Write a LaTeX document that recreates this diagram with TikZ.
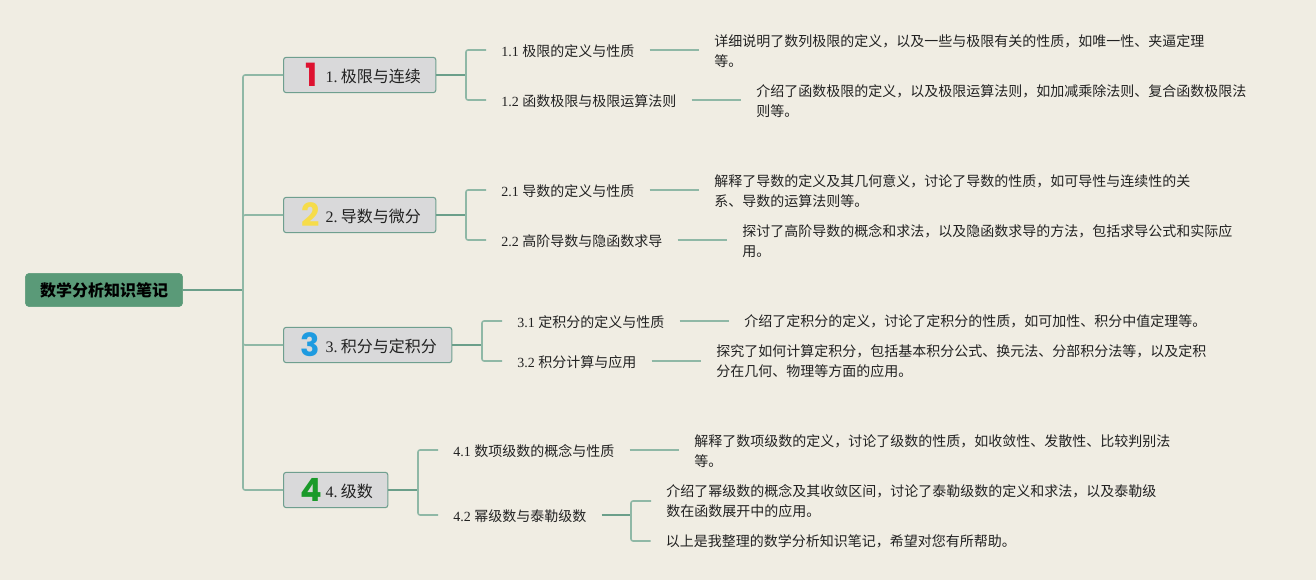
\documentclass[tikz,border=0pt]{standalone}
\usepackage{fontspec}
\setmainfont{Liberation Serif}
\newfontfamily\cjk{Noto Sans CJK SC}
\newfontfamily\iconfont{Poppins}[BoldFont={Poppins Bold}]
\newcommand{\lowtext}[1]{\raisebox{-0.9pt}[\height][\depth]{#1}}
\definecolor{bgc}{HTML}{F0EDE3}
\definecolor{boxfill}{HTML}{D9D9DA}
\definecolor{boxline}{HTML}{6F9F8F}
\definecolor{rootfill}{HTML}{5A9A78}
\definecolor{linedark}{HTML}{6B9F8A}
\definecolor{linelight}{HTML}{8FB8A6}
\definecolor{ink}{HTML}{222222}
\definecolor{iconred}{HTML}{DE1230}
\definecolor{iconyellow}{HTML}{F6DC4A}
\definecolor{iconblue}{HTML}{1E9BE0}
\definecolor{icongreen}{HTML}{1A9A2A}
\tikzset{
  rootbox/.style={draw=rootfill,fill=rootfill,rounded corners=3pt,minimum width=118pt,minimum height=25pt,inner sep=0pt,
    font=\fontsize{12}{15}\selectfont\cjk\bfseries,text=black},
  secbox/.style={draw=boxline,fill=boxfill,line width=0.8pt,rounded corners=2pt,minimum height=26.5pt,inner xsep=11.25pt,inner ysep=0pt,anchor=west,
    font=\fontsize{12}{15}\selectfont,text=ink},
  subtext/.style={anchor=west,inner xsep=11.25pt,inner ysep=0pt,font=\fontsize{10.5}{15}\selectfont,text=ink},
  detail/.style={anchor=west,inner xsep=11.25pt,inner ysep=0pt,align=left,font=\fontsize{10.5}{15}\selectfont\cjk,text=ink},
  icontext/.style={inner sep=0pt,font=\fontsize{24}{24}\selectfont\iconfont\bfseries},
  darkline/.style={draw=linedark,line width=1.2pt},
  lightline/.style={draw=linelight,line width=1.15pt,rounded corners=1.5pt},
}
\begin{document}
\begin{tikzpicture}[x=0.75pt,y=-0.75pt]
\fill[bgc] (0,0) rectangle (1316,580);
\useasboundingbox (0,0) rectangle (1316,580);

\node[rootbox] (root) at (104,290) {数学分析知识笔记};

\node[secbox] (b1) at (283,75) {\hspace{20.25pt}\lowtext{1.\hspace{-1.5pt} {\cjk 极限与连续}}};
\node[secbox] (b2) at (283,215) {\hspace{20.25pt}\lowtext{2.\hspace{-1.5pt} {\cjk 导数与微分}}};
\node[secbox] (b3) at (283,345) {\hspace{20.25pt}\lowtext{3.\hspace{-1.5pt} {\cjk 积分与定积分}}};
\node[secbox] (b4) at (283,490) {\hspace{20.25pt}\lowtext{4.\hspace{-1.5pt} {\cjk 级数}}};

\node[icontext,text=iconred] (i1) at (311.5,75) {1};
\node[icontext,text=iconyellow] (i2) at (311,215) {2};
\node[icontext,text=iconblue] (i3) at (310.5,345) {3};
\node[icontext,text=icongreen] (i4) at (311,490) {4};

\node[subtext] (s11) at (486,50) {\lowtext{1.1 {\cjk 极限的定义与性质}}};
\node[subtext] (s12) at (486,100) {\lowtext{1.2 {\cjk 函数极限与极限运算法则}}};
\node[subtext] (s21) at (486,190) {\lowtext{2.1 {\cjk 导数的定义与性质}}};
\node[subtext] (s22) at (486,240) {\lowtext{2.2 {\cjk 高阶导数与隐函数求导}}};
\node[subtext] (s31) at (502,321) {\lowtext{3.1 {\cjk 定积分的定义与性质}}};
\node[subtext] (s32) at (502,361) {\lowtext{3.2 {\cjk 积分计算与应用}}};
\node[subtext] (s41) at (438,450) {\lowtext{4.1 {\cjk 数项级数的概念与性质}}};
\node[subtext] (s42) at (438,515) {\lowtext{4.2 {\cjk 幂级数与泰勒级数}}};

\node[detail] (d11) at (699,51) {详细说明了数列极限的定义，以及一些与极限有关的性质，如唯一性、夹逼定理\\等。};
\node[detail] (d12) at (741,101) {介绍了函数极限的定义，以及极限运算法则，如加减乘除法则、复合函数极限法\\则等。};
\node[detail] (d21) at (699,191) {解释了导数的定义及其几何意义，讨论了导数的性质，如可导性与连续性的关\\系、导数的运算法则等。};
\node[detail] (d22) at (727,241) {探讨了高阶导数的概念和求法，以及隐函数求导的方法，包括求导公式和实际应\\用。};
\node[detail] (d31) at (729,321) {介绍了定积分的定义，讨论了定积分的性质，如可加性、积分中值定理等。};
\node[detail] (d32) at (701,361) {探究了如何计算定积分，包括基本积分公式、换元法、分部积分法等，以及定积\\分在几何、物理等方面的应用。};
\node[detail] (d41) at (679,451) {解释了数项级数的定义，讨论了级数的性质，如收敛性、发散性、比较判别法\\等。};
\node[detail] (d421) at (651,501) {介绍了幂级数的概念及其收敛区间，讨论了泰勒级数的定义和求法，以及泰勒级\\数在函数展开中的应用。};
\node[detail] (d422) at (650.5,541) {以上是我整理的数学分析知识笔记，希望对您有所帮助。};

\coordinate (j0) at (243,290);
\coordinate (j1) at (466,75);
\coordinate (j2) at (466,215);
\coordinate (j3) at (482,345);
\coordinate (j4) at (418,490);
\coordinate (j5) at (631,515);

\draw[darkline] (root.east) -- (j0);
\draw[lightline] (j0) |- (b1.west);
\draw[lightline] (j0) |- (b2.west);
\draw[lightline] (j0) |- (b3.west);
\draw[lightline] (j0) |- (b4.west);

\draw[darkline] (b1.east) -- (j1);
\draw[darkline] (b2.east) -- (j2);
\draw[darkline] (b3.east) -- (j3);
\draw[darkline] (b4.east) -- (j4);
\draw[lightline] (j1) |- (s11.west);
\draw[lightline] (j1) |- (s12.west);
\draw[lightline] (j2) |- (s21.west);
\draw[lightline] (j2) |- (s22.west);
\draw[lightline] (j3) |- (s31.west);
\draw[lightline] (j3) |- (s32.west);
\draw[lightline] (j4) |- (s41.west);
\draw[lightline] (j4) |- (s42.west);

\draw[lightline] (s11.east) -- (d11.west |- s11.east);
\draw[lightline] (s12.east) -- (d12.west |- s12.east);
\draw[lightline] (s21.east) -- (d21.west |- s21.east);
\draw[lightline] (s22.east) -- (d22.west |- s22.east);
\draw[lightline] (s31.east) -- (d31.west |- s31.east);
\draw[lightline] (s32.east) -- (d32.west |- s32.east);
\draw[lightline] (s41.east) -- (d41.west |- s41.east);
\draw[darkline] (s42.east) -- (j5);
\draw[lightline] (j5) |- (d421.west);
\draw[lightline] (j5) |- (d422.west);
\end{tikzpicture}
\end{document}
